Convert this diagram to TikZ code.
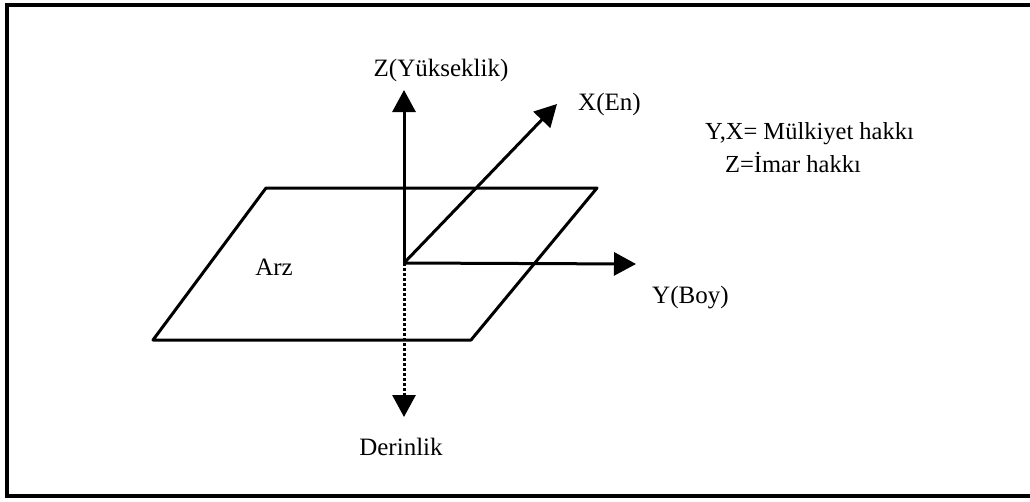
\documentclass[tikz,border=0pt]{standalone}
\usepackage{fontspec}
\setmainfont{Liberation Serif}
\usetikzlibrary{arrows.meta}
\begin{document}
\begin{tikzpicture}[x=1pt,y=-1pt,
  ln/.style={line width=3pt},
  axis/.style={ln,-{Triangle[length=22pt,width=23pt]}},
  lbl/.style={font=\fontsize{25}{29}\selectfont,inner sep=0pt},
  big/.style={font=\fontsize{24.5}{29}\selectfont,inner sep=0pt,anchor=west}]
\useasboundingbox (0,0) rectangle (1030,501);
% frame
\draw[line width=3.5pt] (1030,5) -- (7,5) -- (7,496) -- (1030,496);
% coordinates
\coordinate (O) at (404,263);
\coordinate (Zt) at (404,90);
\coordinate (Xt) at (557,104);
\coordinate (Yt) at (636,264);
\coordinate (Dt) at (404,417);
\coordinate (P1) at (266,188);
\coordinate (P2) at (597,188);
\coordinate (P3) at (471,340);
\coordinate (P4) at (153,340);
% plane
\draw[ln,line join=round] (P1) -- (P2) -- (P3) -- (P4) -- cycle;
% axes
\draw[axis] (O) -- (Zt);
\draw[axis] (O) -- (Xt);
\draw[axis] (O) -- (Yt);
\draw[axis,dotted] (O) -- (Dt);
% labels
\node[lbl] (zl) at (441,70) {Z(Yükseklik)};
\node[lbl,anchor=west] (xl) at (578,104) {X(En)};
\node[lbl,anchor=west] (yl) at (652,298) {Y(Boy)};
\node[lbl] (arz) at (274,267) {Arz};
\node[lbl] (der) at (401,447) {Derinlik};
\node[big] (t1) at (705,134) {Y,X= Mülkiyet hakkı};
\node[big] (t2) at (725,163) {Z=İmar hakkı};
\end{tikzpicture}
\end{document}
